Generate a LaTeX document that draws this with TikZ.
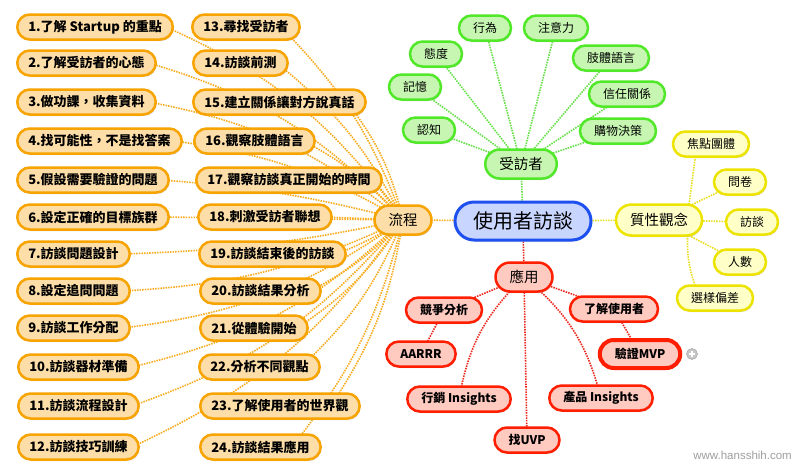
\documentclass[tikz,border=0pt]{standalone}
\usepackage{fontspec}
\setmainfont{Noto Sans CJK TC}
\newfontfamily\wmfont{Liberation Sans}
\usetikzlibrary{shadows,backgrounds}
\definecolor{oB}{RGB}{247,163,0}
\definecolor{oF}{RGB}{253,222,168}
\definecolor{oL}{RGB}{248,172,30}
\definecolor{gB}{RGB}{80,232,40}
\definecolor{gF}{RGB}{198,246,178}
\definecolor{gL}{RGB}{100,225,70}
\definecolor{yB}{RGB}{236,228,0}
\definecolor{yF}{RGB}{255,255,200}
\definecolor{yL}{RGB}{232,224,30}
\definecolor{rB}{RGB}{255,30,0}
\definecolor{rF}{RGB}{255,202,192}
\definecolor{rL}{RGB}{238,40,30}
\definecolor{bB}{RGB}{30,80,240}
\definecolor{bF}{RGB}{200,214,255}
\tikzset{
  shadowed/.style={drop shadow={shadow xshift=0.8pt,shadow yshift=-1.5pt,opacity=0.3}},
  leafbase/.style={rectangle, rounded corners=12.5pt, minimum height=25pt, inner ysep=0pt, line width=2.5pt, shadowed},
  ostep/.style={leafbase, inner xsep=11pt, draw=oB, fill=oF, font=\bfseries\fontsize{13}{13}\selectfont, anchor=west},
  gleaf/.style={leafbase, inner xsep=14pt, draw=gB, fill=gF, font=\fontsize{12}{12}\selectfont},
  yleaf/.style={leafbase, inner xsep=14pt, draw=yB, fill=yF, font=\fontsize{12}{12}\selectfont},
  rleaf/.style={leafbase, inner xsep=14pt, draw=rB, fill=rF, font=\bfseries\fontsize{12}{12}\selectfont},
  midnode/.style={rectangle, rounded corners=14.5pt, minimum height=29pt, inner ysep=0pt, inner xsep=14pt, line width=2.5pt, font=\fontsize{14.5}{14.5}\selectfont, shadowed},
  oline/.style={draw=oL, line width=1.6pt, dash pattern=on 1.5pt off 1.1pt},
  gline/.style={draw=gL, line width=1.6pt, dash pattern=on 1.5pt off 1.1pt},
  yline/.style={draw=yL, line width=1.6pt, dash pattern=on 1.5pt off 1.1pt},
  rline/.style={draw=rL, line width=1.6pt, dash pattern=on 1.5pt off 1.1pt},
}
\begin{document}
\begin{tikzpicture}[x=1pt,y=-1pt]
\useasboundingbox (0,0) rectangle (800,472);
\begin{scope}[on background layer]
\fill[white] (0,0) rectangle (800,472);
\end{scope}
% center
\node[rectangle, rounded corners=19pt, minimum height=38pt, inner xsep=18pt, inner ysep=0pt, line width=3pt, draw=bB, fill=bF, font=\fontsize{20}{20}\selectfont, shadowed] (c) at (523,221) {使用者訪談};
% main branches
\node[midnode, draw=oB, fill=oF] (flow) at (403,220) {流程};
\node[midnode, draw=gB, fill=gF] (p) at (521,164) {受訪者};
\node[midnode, draw=yB, fill=yF, minimum height=31pt, rounded corners=15.5pt] (q) at (659,220) {質性觀念};
\node[midnode, draw=rB, fill=rF] (app) at (524,277) {應用};
% orange steps
\node[ostep] (L1) at (16,27) {1.了解 Startup 的重點};
\node[ostep] (L2) at (16,63) {2.了解受訪者的心態};
\node[ostep] (L3) at (16,102) {3.做功課，收集資料};
\node[ostep] (L4) at (16,141) {4.找可能性，不是找答案};
\node[ostep] (L5) at (16,180) {5.假設需要驗證的問題};
\node[ostep] (L6) at (16,217) {6.設定正確的目標族群};
\node[ostep] (L7) at (16,254) {7.訪談問題設計};
\node[ostep] (L8) at (16,291) {8.設定追問問題};
\node[ostep] (L9) at (16,328) {9.訪談工作分配};
\node[ostep] (L10) at (17,367) {10.訪談器材準備};
\node[ostep] (L11) at (17,406) {11.訪談流程設計};
\node[ostep] (L12) at (17,447) {12.訪談技巧訓練};
\node[ostep] (R13) at (191,27) {13.尋找受訪者};
\node[ostep] (R14) at (192,63) {14.訪談前測};
\node[ostep] (R15) at (192,102) {15.建立關係讓對方說真話};
\node[ostep] (R16) at (193,141) {16.觀察肢體語言};
\node[ostep] (R17) at (195,180) {17.觀察訪談真正開始的時間};
\node[ostep] (R18) at (197,217) {18.刺激受訪者聯想};
\node[ostep] (R19) at (198,254) {19.訪談結束後的訪談};
\node[ostep] (R20) at (199,291) {20.訪談結果分析};
\node[ostep] (R21) at (199,328) {21.從體驗開始};
\node[ostep] (R22) at (198,367) {22.分析不同觀點};
\node[ostep] (R23) at (199,406) {23.了解使用者的世界觀};
\node[ostep] (R24) at (199,447) {24.訪談結果應用};
% green
\node[gleaf] (g1) at (485,28) {行為};
\node[gleaf] (g2) at (556,28) {注意力};
\node[gleaf] (g3) at (436,54) {態度};
\node[gleaf] (g4) at (611,58) {肢體語言};
\node[gleaf] (g5) at (415,87) {記憶};
\node[gleaf] (g6) at (627,94) {信任關係};
\node[gleaf] (g7) at (429,130) {認知};
\node[gleaf] (g8) at (618,131) {購物決策};
% yellow
\node[yleaf] (y1) at (711,144) {焦點團體};
\node[yleaf] (y2) at (740,182) {問卷};
\node[yleaf] (y3) at (752,222) {訪談};
\node[yleaf] (y4) at (740,262) {人數};
\node[yleaf] (y5) at (715,298) {選樣偏差};
% red
\node[rleaf] (r1) at (444,310) {競爭分析};
\node[rleaf] (r2) at (614,309) {了解使用者};
\node[rleaf] (r3) at (421,354) {AARRR};
\node[rleaf, line width=4pt, minimum height=28pt, rounded corners=14pt, inner xsep=15pt] (r4) at (640,354) {驗證MVP};
\node[rleaf] (r5) at (459,399) {行銷 Insights};
\node[rleaf] (r6) at (601,398) {產品 Insights};
\node[rleaf] (r7) at (527,440) {找UVP};
% plus icon
\node[circle, minimum size=11pt, inner sep=0pt, fill=gray!45, draw=gray!65, line width=0.6pt] (plus) at (692,354) {};
\draw[white, line width=1.3pt] ([xshift=-3.2pt]plus.center) -- ([xshift=3.2pt]plus.center);
\draw[white, line width=1.3pt] ([yshift=-3.2pt]plus.center) -- ([yshift=3.2pt]plus.center);
% watermark
\node[font=\wmfont\fontsize{11.5}{12}\selectfont, text=gray!75, anchor=east, inner sep=0pt] (wm) at (792,455) {www.hansshih.com};
% connectors
\begin{scope}[on background layer]
\draw[oline] (c) -- (flow);
\draw[gline] (c) -- (p);
\draw[yline] (c) -- (q);
\draw[rline] (c) -- (app);
\draw[oline] (flow.center) to[bend right=15] ([xshift=-8pt]L1.east);
\draw[oline] (flow.center) to[bend right=15] ([xshift=-8pt]L2.east);
\draw[oline] (flow.center) to[bend right=14] ([xshift=-8pt]L3.east);
\draw[oline] (flow.center) to[bend right=11] ([xshift=-8pt]L4.east);
\draw[oline] (flow.center) to[bend right=5] ([xshift=-8pt]L5.east);
\draw[oline] (flow.center) -- ([xshift=-8pt]L6.east);
\draw[oline] (flow.center) to[bend left=5] ([xshift=-8pt]L7.east);
\draw[oline] (flow.center) to[bend left=11] ([xshift=-8pt]L8.east);
\draw[oline] (flow.center) to[bend left=14] ([xshift=-8pt]L9.east);
\draw[oline] (flow.center) to[bend left=15] ([xshift=-8pt]L10.east);
\draw[oline] (flow.center) to[bend left=15] ([xshift=-8pt]L11.east);
\draw[oline] (flow.center) to[bend left=15] ([xshift=-8pt]L12.east);
\draw[oline] (flow.center) to[bend right=12] ([xshift=-20pt]R13.east);
\draw[oline] (flow.center) to[bend right=12] ([xshift=-12pt]R14.east);
\draw[oline] (flow.center) to[bend right=12] ([xshift=-20pt]R15.east);
\draw[oline] (flow.center) to[bend right=10] ([xshift=-12pt]R16.east);
\draw[oline] (flow.center) to[bend right=5] ([xshift=-10pt]R17.east);
\draw[oline] (flow.center) -- ([xshift=-10pt]R18.east);
\draw[oline] (flow.center) to[bend left=5] ([xshift=-10pt]R19.east);
\draw[oline] (flow.center) to[bend left=10] ([xshift=-12pt]R20.east);
\draw[oline] (flow.center) to[bend left=12] ([xshift=-12pt]R21.east);
\draw[oline] (flow.center) to[bend left=12] ([xshift=-20pt]R22.east);
\draw[oline] (flow.center) to[bend left=12] ([xshift=-30pt]R23.east);
\draw[oline] (flow.center) to[bend left=12] ([xshift=-30pt]R24.east);
\foreach \g in {g1,g2,g3,g4,g5,g6,g7,g8} \draw[gline] (p.center) -- (\g.center);
\draw[yline] ([xshift=28pt]q.center) -- ([xshift=-14pt]y1.center);
\draw[yline] (q.center) -- (y2.center);
\draw[yline] (q.center) -- (y3.center);
\draw[yline] (q.center) -- (y4.center);
\draw[yline] ([xshift=30pt]q.center) to[bend right=15] ([xshift=-15pt]y5.center);
\draw[rline] (app.center) -- (r1.center);
\draw[rline] (app.center) -- (r2.center);
\draw[rline] (app.center) -- (r7.center);
\draw[rline] (app.center) to[bend right=18] (r5.center);
\draw[rline] (app.center) to[bend left=18] (r6.center);
\draw[rline] (r1.center) -- (r3.center);
\draw[rline] (r2.center) -- (r4.center);
\end{scope}
\end{tikzpicture}
\end{document}
